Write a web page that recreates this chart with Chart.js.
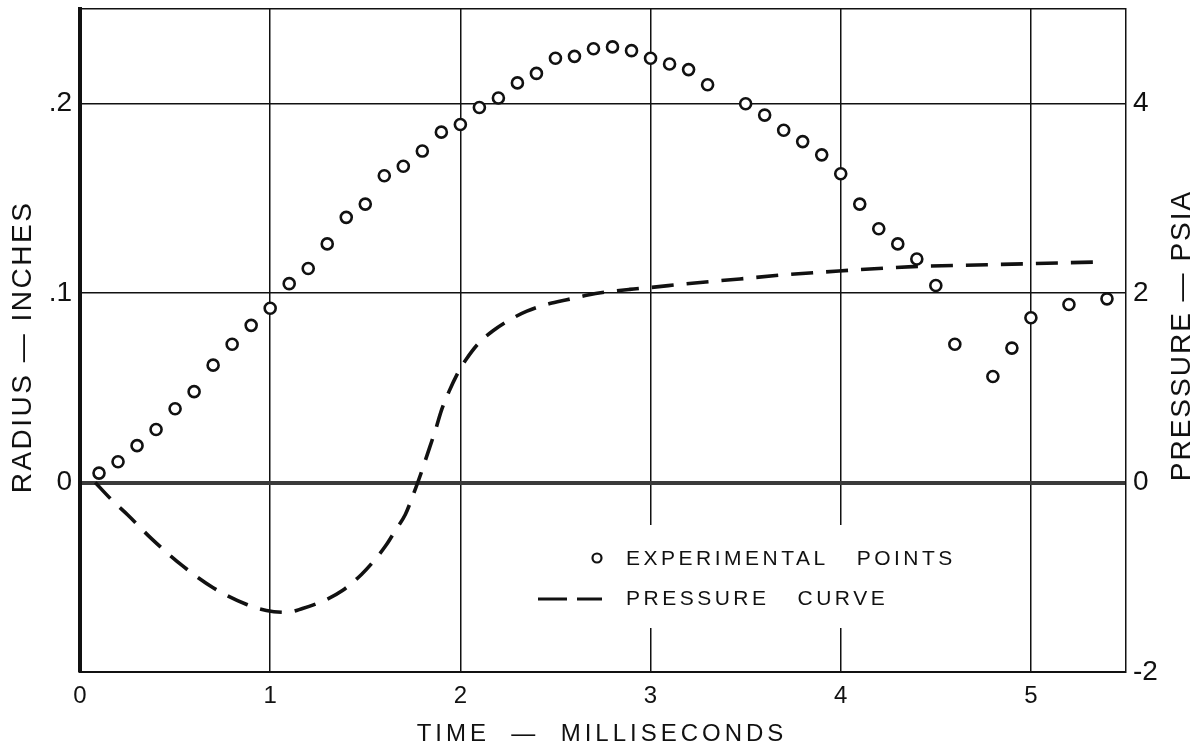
<!DOCTYPE html>
<html>
<head>
<meta charset="utf-8">
<script src="https://cdn.jsdelivr.net/npm/chart.js@4"></script>
<style>
  html, body { margin: 0; padding: 0; background: #fff; }
  #wrap { width: 1203px; height: 753px; }
</style>
</head>
<body>
<div id="wrap"><canvas id="myChart" width="1203" height="753"></canvas></div>
<script>
// experimental points: time (ms) vs radius (inches)
const radiusTime = [
  0.1, 0.2, 0.3, 0.4, 0.5, 0.6, 0.7, 0.8, 0.9, 1.0,
  1.1, 1.2, 1.3, 1.4, 1.5, 1.6, 1.7, 1.8, 1.9, 2.0,
  2.1, 2.2, 2.3, 2.4, 2.5, 2.6, 2.7, 2.8, 2.9, 3.0,
  3.1, 3.2, 3.3, 3.5, 3.6, 3.7, 3.8, 3.9, 4.0, 4.1,
  4.2, 4.3, 4.4, 4.5, 4.6, 4.8, 4.9, 5.0, 5.2, 5.4,
];
const radiusValue = [
  0.005, 0.011, 0.0195, 0.028, 0.039, 0.048, 0.062, 0.073, 0.083, 0.092,
  0.105, 0.113, 0.126, 0.140, 0.147, 0.162, 0.167, 0.175, 0.185, 0.189,
  0.198, 0.203, 0.211, 0.216, 0.224, 0.225, 0.229, 0.230, 0.228, 0.224,
  0.221, 0.218, 0.210, 0.200, 0.194, 0.186, 0.180, 0.173, 0.163, 0.147,
  0.134, 0.126, 0.118, 0.104, 0.073, 0.056, 0.071, 0.087, 0.094, 0.097,
];

// pressure curve: time (ms) vs pressure (psia)
const pressureTime = [
  0.08, 0.17, 0.25, 0.38, 0.54, 0.70, 0.88, 0.98, 1.09, 1.17,
  1.29, 1.38, 1.48, 1.54, 1.61, 1.66, 1.71, 1.75, 1.79, 1.84,
  1.87, 1.90, 1.94, 1.99, 2.03, 2.10, 2.17, 2.27, 2.35, 2.47,
  2.56, 2.67, 2.76, 2.89, 3.0, 3.19, 3.47, 3.68, 3.89, 4.38,
  4.77, 5.37,
];
const pressureValue = [
  0, -0.19, -0.34, -0.6, -0.88, -1.11, -1.29, -1.35, -1.37, -1.33,
  -1.24, -1.14, -0.97, -0.84, -0.66, -0.5, -0.34, -0.14, 0.08, 0.38,
  0.56, 0.76, 0.96, 1.17, 1.3, 1.48, 1.6, 1.73, 1.81, 1.89,
  1.93, 1.98, 2.01, 2.04, 2.06, 2.1, 2.15, 2.19, 2.22, 2.28,
  2.3, 2.33,
];

// tick values and labels
const timeTicks = [0, 1, 2, 3, 4, 5, 5.5];
const timeLabels = ["0", "1", "2", "3", "4", "5", ""];
const radiusTicks = [-0.1, 0, 0.1, 0.2, 0.25];
const radiusLabels = ["", "0", ".1", ".2", ""];
const pressureTicks = [-2, 0, 2, 4, 5];
const pressureLabels = ["-2", "0", "2", "4", ""];

const INK = "#111";
const FONT = '"Liberation Sans", Arial, sans-serif';
Chart.defaults.font.family = FONT;
Chart.defaults.color = INK;

//# legend box and axis titles (lettering is spaced out like the drawing)
const extrasPlugin = {
  id: "extras",
  afterDatasetsDraw(chart) {
    const ctx = chart.ctx;
    const area = chart.chartArea;
    ctx.save();
    // white patch that breaks the grid behind the legend
    ctx.fillStyle = "#fff";
    ctx.fillRect(540, 525, 420, 103);

    ctx.fillStyle = INK;
    ctx.strokeStyle = INK;
    ctx.font = "21px " + FONT;
    ctx.textBaseline = "middle";
    ctx.letterSpacing = "3.5px";
    ctx.fillText("EXPERIMENTAL   POINTS", 626, 559);
    ctx.fillText("PRESSURE   CURVE", 626, 599);

    ctx.lineWidth = 2.2;
    ctx.beginPath();
    ctx.arc(597, 558, 4.5, 0, Math.PI * 2);
    ctx.stroke();

    ctx.lineWidth = 3.2;
    ctx.beginPath();
    ctx.moveTo(538, 599);
    ctx.lineTo(567, 599);
    ctx.moveTo(577, 599);
    ctx.lineTo(602, 599);
    ctx.stroke();

    // x title
    ctx.textAlign = "center";
    ctx.font = "24px " + FONT;
    ctx.letterSpacing = "4px";
    ctx.fillText("TIME  —  MILLISECONDS", 602, 734);

    // left title
    ctx.save();
    ctx.translate(23, 347);
    ctx.rotate(-Math.PI / 2);
    ctx.font = "28px " + FONT;
    ctx.letterSpacing = "2.5px";
    ctx.fillText("RADIUS — INCHES", 0, 0);
    ctx.restore();

    // right title
    ctx.translate(1182, (area.top + area.bottom) / 2 - 5);
    ctx.rotate(-Math.PI / 2);
    ctx.font = "28px " + FONT;
    ctx.letterSpacing = "2px";
    ctx.fillText("PRESSURE — PSIA", 0, 0);
    ctx.restore();
  },
};

const config = {
  type: "scatter",
  data: {
    datasets: [
      {
        label: "Experimental Points",
        data: radiusTime.map((t, i) => ({ x: t, y: radiusValue[i] })),
        yAxisID: "y",
        showLine: false,
        pointStyle: "circle",
        pointRadius: 5.5,
        pointBorderWidth: 2.6,
        borderColor: INK,
        backgroundColor: "#fff",
      },
      {
        label: "Pressure Curve",
        data: pressureTime.map((t, i) => ({ x: t, y: pressureValue[i] })),
        yAxisID: "y2",
        showLine: true,
        pointRadius: 0,
        borderColor: INK,
        borderWidth: 3.6,
        borderDash: [22, 13],
        cubicInterpolationMode: "monotone",
      },
    ],
  },
  options: {
    responsive: false,
    animation: false,
    layout: { padding: { top: 9, left: 0, right: 0, bottom: 0 } },
    plugins: {
      legend: { display: false },
      tooltip: { enabled: false },
    },
    scales: {
      x: {
        type: "linear",
        min: 0,
        max: 5.5,
        afterBuildTicks: (scale) => {
          scale.ticks = timeTicks.map((v) => ({ value: v }));
        },
        afterFit: (scale) => {
          scale.height = 81;
          scale.paddingLeft = 0;
          scale.paddingRight = 0;
        },
        ticks: {
          autoSkip: false,
          maxRotation: 0,
          padding: 10,
          font: { size: 24 },
          callback: (v, i) => timeLabels[i],
        },
        grid: {
          drawTicks: false,
          color: INK,
          lineWidth: (c) => (c.tick && (c.tick.value === 0 || c.tick.value === 5.5) ? 0 : 1.5),
        },
        border: { display: true, width: 2, color: INK },
      },
      y: {
        type: "linear",
        position: "left",
        min: -0.1,
        max: 0.25,
        afterBuildTicks: (scale) => {
          scale.ticks = radiusTicks.map((v) => ({ value: v }));
        },
        afterFit: (scale) => {
          scale.width = 80;
          scale.paddingTop = 0;
          scale.paddingBottom = 0;
        },
        ticks: {
          autoSkip: false,
          padding: 8,
          font: { size: 28 },
          callback: (v, i) => radiusLabels[i],
        },
        grid: {
          drawTicks: false,
          color: (c) => (c.tick && c.tick.value === 0 ? "#3a3a3a" : INK),
          lineWidth: (c) => (c.tick && c.tick.value === 0 ? 4 : 1.5),
        },
        border: { display: true, width: 4, color: INK },
      },
      y2: {
        type: "linear",
        position: "right",
        min: -2,
        max: 5,
        afterBuildTicks: (scale) => {
          scale.ticks = pressureTicks.map((v) => ({ value: v }));
        },
        afterFit: (scale) => {
          scale.width = 77;
          scale.paddingTop = 0;
          scale.paddingBottom = 0;
        },
        ticks: {
          autoSkip: false,
          padding: 7,
          font: { size: 28 },
          callback: (v, i) => pressureLabels[i],
        },
        grid: { display: false, drawTicks: false },
        border: { display: true, width: 1.5, color: INK },
      },
    },
  },
  plugins: [extrasPlugin],
};

const ctx = document.getElementById("myChart").getContext("2d");
const myChart = new Chart(ctx, config);
</script>
</body>
</html>
